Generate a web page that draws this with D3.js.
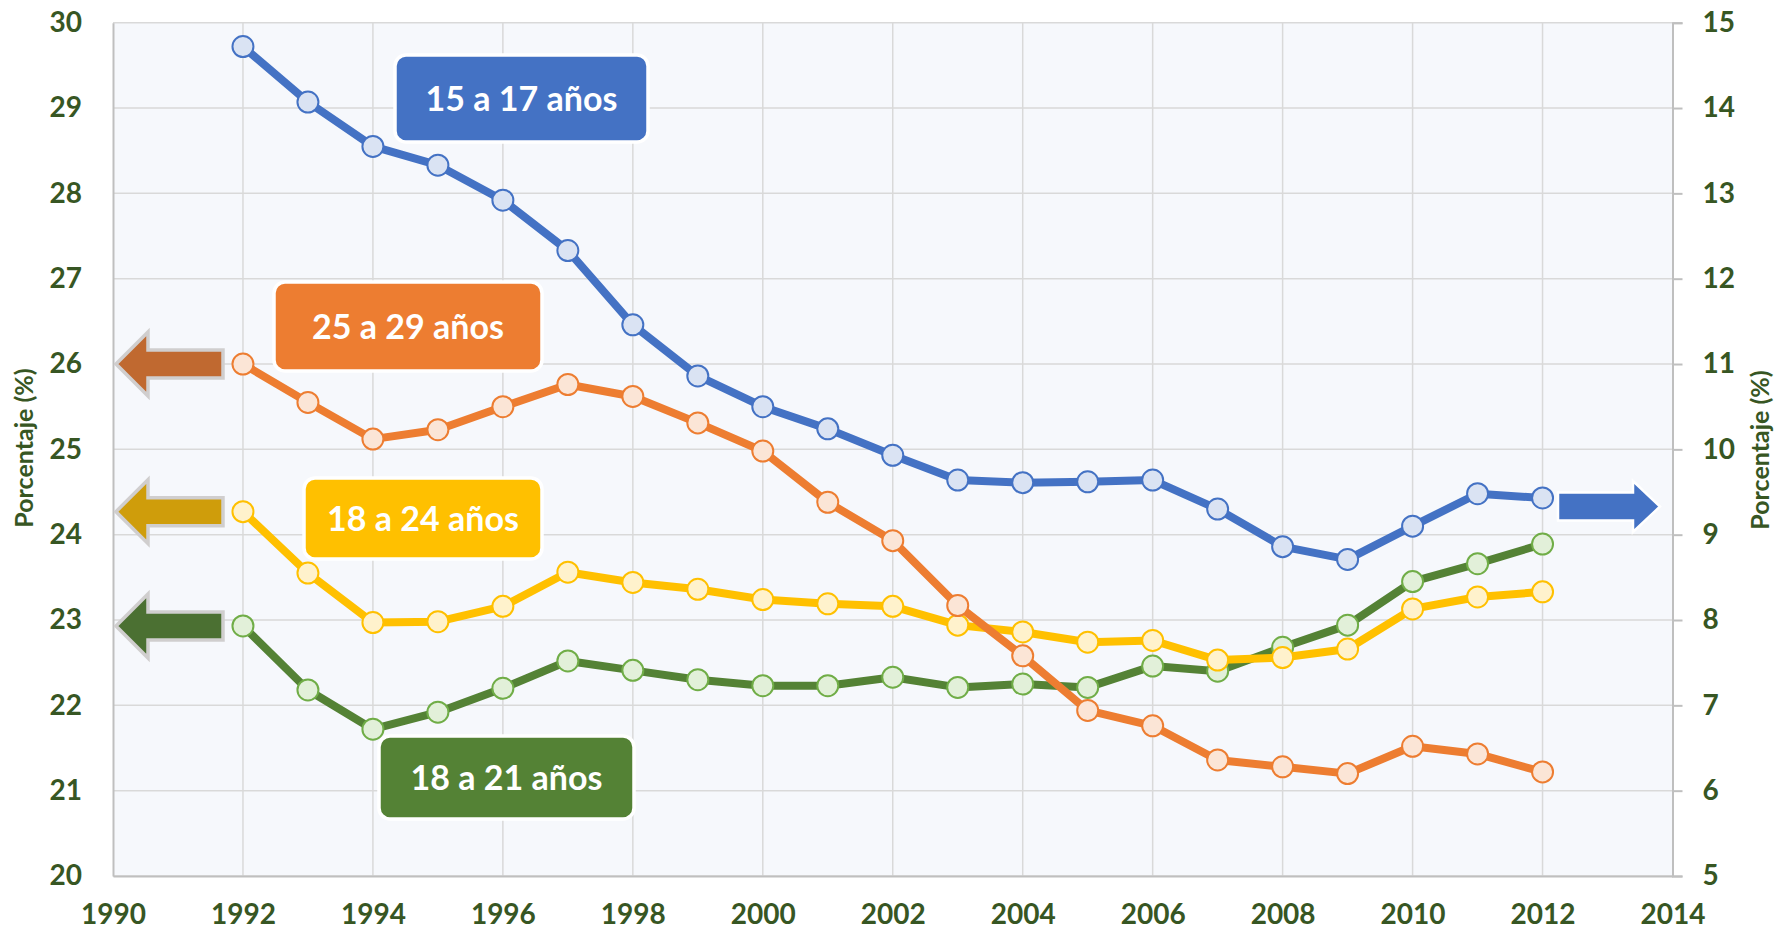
<!DOCTYPE html>
<html>
<head>
<meta charset="utf-8">
<script src="https://cdn.jsdelivr.net/npm/d3@7"></script>
<style>
  html, body { margin: 0; padding: 0; background: #ffffff; }
  svg { display: block; }
  text { font-family: Lato, "Open Sans", sans-serif; font-weight: bold; }
</style>
</head>
<body>
<svg id="chart" width="1775" height="931"></svg>
<script>
// ---------- DATA ----------
const years = [1992, 1993, 1994, 1995, 1996, 1997, 1998, 1999, 2000, 2001, 2002,
               2003, 2004, 2005, 2006, 2007, 2008, 2009, 2010, 2011, 2012];

// 15 a 17 años (right axis)
const serie15a17 = [14.72, 14.07, 13.55, 13.33, 12.92, 12.33, 11.46, 10.86, 10.50, 10.24, 9.93,
                    9.64, 9.61, 9.62, 9.64, 9.30, 8.86, 8.71, 9.10, 9.48, 9.43];
// 25 a 29 años (left axis)
const serie25a29 = [26.00, 25.55, 25.12, 25.23, 25.50, 25.76, 25.62, 25.31, 24.98, 24.38, 23.93,
                    23.17, 22.58, 21.94, 21.76, 21.36, 21.28, 21.20, 21.52, 21.43, 21.22];
// 18 a 24 años (left axis)
const serie18a24 = [24.27, 23.55, 22.97, 22.98, 23.16, 23.56, 23.44, 23.36, 23.24, 23.19, 23.16,
                    22.94, 22.86, 22.74, 22.76, 22.53, 22.56, 22.66, 23.13, 23.27, 23.33];
// 18 a 21 años (left axis)
const serie18a21 = [22.93, 22.18, 21.72, 21.92, 22.20, 22.52, 22.41, 22.30, 22.23, 22.23, 22.33,
                    22.21, 22.25, 22.21, 22.46, 22.40, 22.68, 22.94, 23.45, 23.66, 23.89];

const xTicks = [1990, 1992, 1994, 1996, 1998, 2000, 2002, 2004, 2006, 2008, 2010, 2012, 2014];
const yLeftTicks = [20, 21, 22, 23, 24, 25, 26, 27, 28, 29, 30];
const yRightTicks = [5, 6, 7, 8, 9, 10, 11, 12, 13, 14, 15];
const seriesNames = ["18 a 21 años", "18 a 24 años", "25 a 29 años", "15 a 17 años"];
const axisTitle = "Porcentaje (%)";
// arrow annotation levels (value on the axis they point to)
const arrowLeftLevels = [22.93, 24.27, 26.00];   // green, yellow, orange
const arrowRightLevel = 9.33;                     // blue

// ---------- LAYOUT ----------
const svg = d3.select("#chart");
const X0 = 113, X1 = 1672.5, Y0 = 876, Y1 = 22.7;
const x = d3.scaleLinear().domain([1990, 2014]).range([X0, X1]);
const yL = d3.scaleLinear().domain([20, 30]).range([Y0, Y1]);
const yR = d3.scaleLinear().domain([5, 15]).range([Y0, Y1]);
const textColor = "#375623";

// plot background
svg.append("rect").attr("x", X0).attr("y", Y1).attr("width", X1 - X0).attr("height", Y0 - Y1)
  .attr("fill", "#F6F8FC");

// gridlines
const grid = svg.append("g");
grid.selectAll("line.h").data(yLeftTicks).join("line")
  .attr("x1", X0).attr("x2", X1).attr("y1", d => yL(d)).attr("y2", d => yL(d))
  .attr("stroke", "#D9D9D9").attr("stroke-width", 1.5);
grid.selectAll("line.v").data(xTicks.slice(1, -1)).join("line")
  .attr("x1", d => x(d)).attr("x2", d => x(d)).attr("y1", Y1).attr("y2", Y0)
  .attr("stroke", "#D9D9D9").attr("stroke-width", 1.5);

// axes
const axL = svg.append("g").attr("transform", `translate(${X0},0)`)
  .call(d3.axisLeft(yL).tickValues(yLeftTicks).tickSize(0).tickPadding(31).tickFormat(d3.format("d")));
const axR = svg.append("g").attr("transform", `translate(${X1},0)`)
  .call(d3.axisRight(yR).tickValues(yRightTicks).tickSize(10).tickPadding(20).tickFormat(d3.format("d")));
const axB = svg.append("g").attr("transform", `translate(0,${Y0})`)
  .call(d3.axisBottom(x).tickValues(xTicks).tickSize(0).tickPadding(28).tickFormat(d3.format("d")));
[axL, axR, axB].forEach(a => {
  a.select(".domain").attr("stroke", "#BFBFBF").attr("stroke-width", 2);
  a.selectAll(".tick line").attr("stroke", "#BFBFBF").attr("stroke-width", 2);
  a.selectAll(".tick text").attr("fill", textColor).style("font-size", "28px")
    .style("font-family", "Lato, 'Open Sans', sans-serif").style("font-weight", "bold");
});
axB.selectAll(".tick text").attr("dy", "0.71em");

// axis titles
svg.append("text").attr("transform", `translate(33,448) rotate(-90)`)
  .attr("text-anchor", "middle").attr("fill", textColor).style("font-size", "25px").text(axisTitle);
svg.append("text").attr("transform", `translate(1769,450) rotate(-90)`)
  .attr("text-anchor", "middle").attr("fill", textColor).style("font-size", "25px").text(axisTitle);

// ---------- SERIES ----------
const series = [
  { name: seriesNames[0], values: serie18a21, y: yL, line: "#548235", mFill: "#E2F0D9", mStroke: "#70AD47" },
  { name: seriesNames[1], values: serie18a24, y: yL, line: "#FFC000", mFill: "#FFF2CC", mStroke: "#FFC000" },
  { name: seriesNames[2], values: serie25a29, y: yL, line: "#ED7D31", mFill: "#FBE5D6", mStroke: "#ED7D31" },
  { name: seriesNames[3], values: serie15a17, y: yR, line: "#4472C4", mFill: "#DAE3F3", mStroke: "#4472C4" }
];

series.forEach(s => {
  const pts = years.map((yr, i) => [yr, s.values[i]]);
  const line = d3.line().x(d => x(d[0])).y(d => s.y(d[1]));
  svg.append("path").datum(pts).attr("d", line)
    .attr("fill", "none").attr("stroke", s.line).attr("stroke-width", 8)
    .attr("stroke-linejoin", "round");
  svg.append("g").selectAll("circle").data(pts).join("circle")
    .attr("cx", d => x(d[0])).attr("cy", d => s.y(d[1])).attr("r", 10.5)
    .attr("fill", s.mFill).attr("stroke", s.mStroke).attr("stroke-width", 2);
});

// ---------- ARROWS ----------
function leftArrow(tipX, tipY, color) {
  const headL = 32, headH = 32, shaftH = 14, len = 107;
  const p = [
    [tipX, tipY], [tipX + headL, tipY - headH], [tipX + headL, tipY - shaftH],
    [tipX + len, tipY - shaftH], [tipX + len, tipY + shaftH], [tipX + headL, tipY + shaftH],
    [tipX + headL, tipY + headH]
  ];
  svg.append("path").attr("d", "M" + p.join("L") + "Z")
    .attr("fill", color).attr("stroke", "#D0CECE").attr("stroke-width", 3.5).attr("stroke-linejoin", "miter");
}
const arrowColors = ["#4B7032", "#CF9D0B", "#C06930"];
arrowLeftLevels.forEach((v, i) => leftArrow(x(1990) + 3, yL(v), arrowColors[i]));

(function rightArrow() {
  const tipX = 1660, tipY = yR(arrowRightLevel);
  const headL = 27, headH = 25.5, shaftH = 14, len = 102;
  const p = [
    [tipX, tipY], [tipX - headL, tipY - headH], [tipX - headL, tipY - shaftH],
    [tipX - len, tipY - shaftH], [tipX - len, tipY + shaftH], [tipX - headL, tipY + shaftH],
    [tipX - headL, tipY + headH]
  ];
  svg.append("path").attr("d", "M" + p.join("L") + "Z")
    .attr("fill", "#4472C4").attr("stroke", "#FFFFFF").attr("stroke-width", 2.5);
})();

// ---------- LABEL BOXES ----------
const boxes = [
  { name: seriesNames[3], color: "#4472C4", x: 395, y: 55, w: 253, h: 87 },
  { name: seriesNames[2], color: "#ED7D31", x: 274, y: 282, w: 268, h: 89 },
  { name: seriesNames[1], color: "#FFC000", x: 304, y: 478, w: 238, h: 81 },
  { name: seriesNames[0], color: "#548235", x: 379, y: 736, w: 255, h: 83 }
];
boxes.forEach(b => {
  svg.append("rect").attr("x", b.x).attr("y", b.y).attr("width", b.w).attr("height", b.h)
    .attr("rx", 11).attr("fill", b.color).attr("stroke", "#FFFFFF").attr("stroke-width", 3.5);
  svg.append("text").attr("x", b.x + b.w / 2).attr("y", b.y + b.h / 2)
    .attr("dy", "0.36em").attr("text-anchor", "middle").attr("fill", "#FFFFFF")
    .style("font-size", "34px").text(b.name);
});
</script>
</body>
</html>
